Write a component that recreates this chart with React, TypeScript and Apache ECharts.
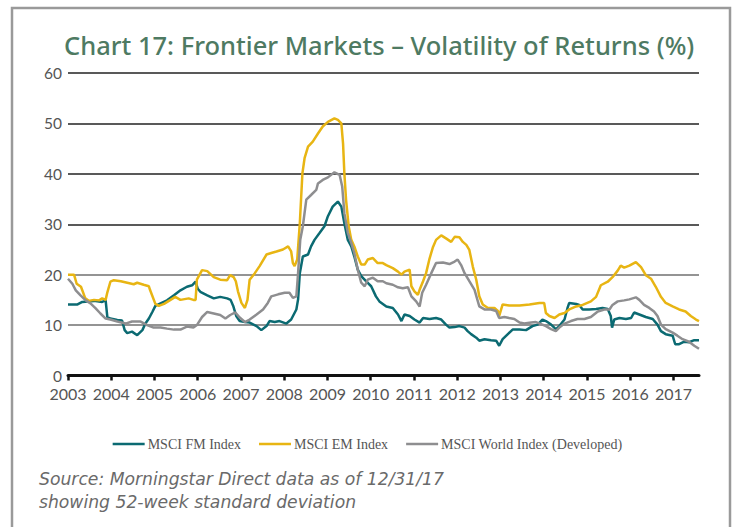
import React, { useEffect, useRef } from "react";
import * as echarts from "echarts";

const TITLE = "Chart 17: Frontier Markets \u2013 Volatility of Returns (%)";
const SOURCE_LINES = ["Source: Morningstar Direct data as of 12/31/17", "showing 52-week standard deviation"];
const SERIES_NAMES = ["MSCI FM Index", "MSCI EM Index", "MSCI World Index (Developed)"];
const YEAR_TICKS = [2003, 2004, 2005, 2006, 2007, 2008, 2009, 2010, 2011, 2012, 2013, 2014, 2015, 2016, 2017];
const Y_TICKS = [0, 10, 20, 30, 40, 50, 60];

const fmData: [number, number][] = [
  [2003.0, 14.1], [2003.22, 14.1], [2003.33, 14.6], [2003.6, 14.8], [2003.79, 14.6], [2003.87, 14.9], [2003.91, 11.6],
  [2003.98, 11.3], [2004.14, 11.0], [2004.25, 10.9], [2004.31, 9.0], [2004.37, 8.4], [2004.48, 8.7], [2004.6, 8.0],
  [2004.72, 9.0], [2004.79, 10.3], [2004.87, 11.3], [2004.95, 12.6], [2005.02, 13.8], [2005.14, 14.3], [2005.29, 14.9],
  [2005.45, 15.9], [2005.6, 16.9], [2005.75, 17.6], [2005.87, 17.9], [2005.95, 18.6], [2006.0, 17.2], [2006.06, 16.6],
  [2006.22, 15.9], [2006.37, 15.3], [2006.52, 15.6], [2006.68, 15.3], [2006.76, 15.0], [2006.82, 13.8], [2006.89, 11.8],
  [2006.97, 10.8], [2007.09, 10.6], [2007.2, 10.5], [2007.36, 9.8], [2007.47, 9.0], [2007.59, 9.8], [2007.66, 10.8],
  [2007.78, 10.6], [2007.89, 10.8], [2008.05, 10.3], [2008.16, 11.1], [2008.28, 13.1], [2008.32, 15.1], [2008.36, 20.3],
  [2008.43, 23.6], [2008.55, 24.0], [2008.62, 25.6], [2008.7, 26.9], [2008.82, 28.3], [2008.93, 29.6], [2009.01, 31.6],
  [2009.12, 33.5], [2009.24, 34.5], [2009.32, 33.5], [2009.39, 30.2], [2009.47, 26.9], [2009.55, 25.6], [2009.62, 23.6],
  [2009.7, 21.0], [2009.78, 19.7], [2009.89, 18.7], [2010.01, 17.7], [2010.12, 15.7], [2010.2, 14.7], [2010.36, 13.7],
  [2010.51, 13.4], [2010.63, 12.1], [2010.71, 10.8], [2010.78, 12.1], [2010.9, 11.8], [2011.01, 11.1], [2011.13, 10.5],
  [2011.21, 11.4], [2011.36, 11.2], [2011.51, 11.4], [2011.63, 11.1], [2011.74, 10.1], [2011.82, 9.5], [2011.94, 9.6],
  [2012.05, 9.8], [2012.17, 9.5], [2012.24, 8.8], [2012.32, 8.2], [2012.44, 7.5], [2012.51, 6.9], [2012.63, 7.2],
  [2012.78, 7.0], [2012.9, 6.9], [2012.97, 5.9], [2013.05, 7.2], [2013.17, 8.2], [2013.28, 9.1], [2013.44, 9.1],
  [2013.59, 9.0], [2013.74, 9.8], [2013.86, 10.1], [2013.97, 11.1], [2014.05, 10.8], [2014.17, 10.1], [2014.28, 9.2],
  [2014.36, 9.8], [2014.48, 11.1], [2014.55, 13.4], [2014.59, 14.4], [2014.75, 14.2], [2014.82, 14.0], [2014.9, 13.1],
  [2015.05, 13.1], [2015.21, 13.2], [2015.36, 13.4], [2015.48, 13.2], [2015.55, 11.8], [2015.58, 9.5], [2015.63, 11.1],
  [2015.75, 11.4], [2015.9, 11.2], [2016.02, 11.4], [2016.09, 12.5], [2016.21, 12.1], [2016.36, 11.6], [2016.52, 11.2],
  [2016.63, 10.1], [2016.71, 8.8], [2016.82, 8.2], [2016.98, 7.9], [2017.04, 6.2], [2017.13, 6.2], [2017.25, 6.7],
  [2017.36, 6.6], [2017.48, 7.0], [2017.59, 7.0],
];

const emData: [number, number][] = [
  [2003.0, 20.0], [2003.14, 20.0], [2003.2, 18.2], [2003.3, 17.6], [2003.4, 15.3], [2003.48, 14.8], [2003.6, 15.0],
  [2003.72, 14.9], [2003.79, 15.3], [2003.87, 15.0], [2003.91, 16.5], [2003.98, 18.6], [2004.06, 18.9], [2004.22, 18.7],
  [2004.37, 18.4], [2004.52, 18.1], [2004.6, 18.4], [2004.75, 18.0], [2004.87, 17.7], [2004.9, 16.9], [2005.02, 14.2],
  [2005.1, 13.8], [2005.22, 14.2], [2005.37, 15.0], [2005.48, 15.6], [2005.6, 15.0], [2005.79, 15.3], [2005.9, 15.0],
  [2005.95, 15.0], [2005.98, 19.0], [2006.1, 20.9], [2006.22, 20.7], [2006.37, 19.5], [2006.52, 19.0], [2006.68, 18.9],
  [2006.75, 19.9], [2006.83, 19.5], [2006.88, 18.7], [2006.93, 16.7], [2007.01, 14.4], [2007.09, 13.4], [2007.15, 15.0],
  [2007.2, 19.0], [2007.32, 20.3], [2007.43, 21.7], [2007.59, 24.0], [2007.7, 24.3], [2007.82, 24.6], [2007.97, 25.0],
  [2008.09, 25.6], [2008.16, 24.6], [2008.2, 22.3], [2008.24, 21.7], [2008.3, 23.0], [2008.36, 30.2], [2008.42, 40.1],
  [2008.47, 43.1], [2008.55, 45.4], [2008.66, 46.4], [2008.78, 48.0], [2008.89, 49.4], [2009.01, 50.3], [2009.16, 51.0],
  [2009.24, 50.7], [2009.32, 50.0], [2009.36, 46.0], [2009.39, 40.1], [2009.43, 34.8], [2009.49, 29.6], [2009.55, 26.9],
  [2009.62, 25.6], [2009.7, 23.6], [2009.78, 22.0], [2009.86, 22.0], [2009.93, 23.0], [2010.05, 23.3], [2010.16, 22.3],
  [2010.28, 22.3], [2010.36, 21.9], [2010.51, 21.3], [2010.63, 20.6], [2010.71, 20.0], [2010.78, 20.6], [2010.9, 21.0],
  [2010.94, 17.7], [2011.01, 16.7], [2011.09, 16.0], [2011.13, 17.0], [2011.21, 18.7], [2011.28, 20.3], [2011.36, 23.2],
  [2011.44, 25.5], [2011.51, 26.9], [2011.63, 27.8], [2011.74, 27.2], [2011.86, 26.5], [2011.94, 27.5], [2012.05, 27.4],
  [2012.13, 26.5], [2012.21, 25.9], [2012.28, 24.9], [2012.36, 21.6], [2012.44, 19.0], [2012.51, 15.7], [2012.59, 14.1],
  [2012.71, 13.4], [2012.86, 13.4], [2012.94, 12.8], [2012.97, 11.8], [2013.05, 14.1], [2013.2, 13.9], [2013.44, 13.9],
  [2013.67, 14.1], [2013.9, 14.4], [2014.01, 14.4], [2014.05, 12.4], [2014.13, 11.8], [2014.25, 11.4], [2014.36, 12.1],
  [2014.48, 12.4], [2014.59, 13.1], [2014.75, 13.7], [2014.9, 14.0], [2015.09, 14.7], [2015.21, 15.6], [2015.32, 17.9],
  [2015.48, 18.6], [2015.59, 19.5], [2015.71, 20.8], [2015.78, 21.8], [2015.86, 21.4], [2015.98, 21.8], [2016.13, 22.5],
  [2016.25, 21.5], [2016.36, 19.9], [2016.48, 19.2], [2016.59, 17.6], [2016.71, 15.6], [2016.82, 14.4], [2016.98, 13.7],
  [2017.13, 13.1], [2017.28, 12.7], [2017.4, 11.8], [2017.52, 11.1], [2017.59, 10.8],
];

const worldData: [number, number][] = [
  [2003.0, 19.2], [2003.1, 18.2], [2003.18, 16.9], [2003.29, 15.9], [2003.41, 14.9], [2003.52, 14.3], [2003.64, 13.3],
  [2003.75, 12.3], [2003.87, 11.3], [2003.98, 11.1], [2004.14, 10.7], [2004.33, 10.3], [2004.48, 10.7], [2004.68, 10.7],
  [2004.83, 10.0], [2004.98, 9.5], [2005.14, 9.5], [2005.29, 9.3], [2005.45, 9.1], [2005.6, 9.1], [2005.75, 9.7],
  [2005.9, 9.5], [2005.98, 10.0], [2006.1, 11.6], [2006.22, 12.6], [2006.37, 12.3], [2006.52, 12.0], [2006.64, 11.3],
  [2006.75, 12.0], [2006.87, 12.5], [2006.97, 11.5], [2007.09, 10.6], [2007.2, 11.1], [2007.36, 12.1], [2007.51, 13.1],
  [2007.62, 14.4], [2007.7, 15.7], [2007.86, 16.1], [2008.01, 16.4], [2008.12, 16.4], [2008.2, 15.4], [2008.28, 15.7],
  [2008.32, 20.3], [2008.37, 26.9], [2008.43, 29.6], [2008.51, 34.9], [2008.62, 35.8], [2008.74, 36.8], [2008.78, 38.1],
  [2008.89, 38.8], [2009.01, 39.3], [2009.16, 40.3], [2009.28, 39.8], [2009.34, 37.5], [2009.39, 32.2], [2009.47, 28.3],
  [2009.55, 26.3], [2009.62, 24.3], [2009.7, 21.0], [2009.78, 18.4], [2009.86, 17.7], [2009.93, 19.0], [2010.05, 19.4],
  [2010.16, 18.7], [2010.28, 18.7], [2010.36, 18.3], [2010.51, 18.0], [2010.63, 17.5], [2010.74, 17.3], [2010.86, 17.5],
  [2010.94, 15.7], [2011.05, 14.7], [2011.13, 13.7], [2011.19, 16.4], [2011.28, 18.0], [2011.4, 20.3], [2011.51, 22.3],
  [2011.67, 22.4], [2011.82, 22.1], [2011.94, 22.6], [2012.01, 23.0], [2012.09, 21.9], [2012.17, 20.3], [2012.28, 18.7],
  [2012.4, 17.0], [2012.51, 13.7], [2012.63, 13.1], [2012.78, 13.1], [2012.9, 12.8], [2012.97, 11.4], [2013.09, 11.6],
  [2013.2, 11.4], [2013.32, 11.2], [2013.44, 10.5], [2013.55, 10.3], [2013.71, 10.5], [2013.82, 10.6], [2013.97, 10.1],
  [2014.05, 9.8], [2014.17, 9.2], [2014.28, 8.8], [2014.36, 9.5], [2014.48, 10.3], [2014.63, 10.8], [2014.78, 11.2],
  [2014.94, 11.2], [2015.09, 11.6], [2015.25, 12.7], [2015.4, 13.1], [2015.52, 13.1], [2015.59, 14.0], [2015.71, 14.7],
  [2015.86, 14.9], [2015.98, 15.1], [2016.13, 15.5], [2016.21, 15.0], [2016.32, 14.0], [2016.44, 13.4], [2016.55, 12.7],
  [2016.63, 11.8], [2016.71, 10.1], [2016.82, 9.2], [2016.98, 8.5], [2017.09, 7.9], [2017.21, 7.2], [2017.36, 6.7],
  [2017.48, 5.9], [2017.59, 5.3],
];

const COLORS = ["#0b6a72", "#e8b513", "#8e8e90"];

export default function App() {
  const ref = useRef<HTMLDivElement>(null);
  useEffect(() => {
    if (!ref.current) return;
    const chart = echarts.init(ref.current, null, { renderer: "svg" });
    const seriesData = [fmData, emData, worldData];
    chart.setOption({
      animation: false,
      backgroundColor: "#ffffff",
      title: {
        text: TITLE,
        left: 59,
        top: 27,
        textStyle: { fontFamily: "Noto Sans", fontSize: 25.5, fontWeight: 500, color: "#4e7a62" },
      },
      legend: {
        data: SERIES_NAMES,
        left: "center",
        top: 432,
        icon: "rect",
        itemWidth: 32,
        itemHeight: 2.5,
        itemGap: 18,
        textStyle: { fontFamily: "Liberation Serif", fontSize: 14, color: "#555555", padding: [0, 0, 0, -2] },
      },
      grid: { left: 68, right: 36, top: 73, bottom: 151.5, containLabel: false },
      xAxis: {
        type: "value",
        min: 2003,
        max: 2017.59,
        interval: 1,
        axisLine: { show: true, lineStyle: { color: "#111111", width: 3 } },
        axisTick: { show: true, length: 5, lineStyle: { color: "#111111", width: 2.5 }, customValues: YEAR_TICKS },
        axisLabel: {
          customValues: YEAR_TICKS,
          formatter: (v: number) => String(v),
          margin: 10,
          fontFamily: "Lato",
          fontSize: 16,
          lineHeight: 16,
          color: "#555555",
        },
        splitLine: { show: false },
      },
      yAxis: {
        type: "value",
        min: 0,
        max: 60,
        interval: 10,
        axisLine: { show: false },
        axisTick: { show: false },
        axisLabel: {
          margin: 6,
          fontFamily: "Lato",
          fontSize: 15.5,
          lineHeight: 14,
          color: "#555555",
          formatter: (v: number) => (Y_TICKS.includes(v) ? String(v) : ""),
        },
        splitLine: {
          show: true,
          lineStyle: { color: ["#222222", "#707070", "#707070", "#222222", "#222222", "#222222", "#222222"], width: 1.5 },
        },
      },
      series: SERIES_NAMES.map((name, i) => ({
        name,
        type: "line",
        data: seriesData[i],
        showSymbol: false,
        symbol: "none",
        lineStyle: { color: COLORS[i], width: 2.5 },
        itemStyle: { color: COLORS[i] },
        z: 2 + i,
      })),
      graphic: [
        {
          type: "rect",
          shape: { x: 12, y: 8, width: 718, height: 540 },
          style: { fill: "none", stroke: "#9a9a9a", lineWidth: 2.5 },
          silent: true,
        },
        {
          type: "text",
          left: 39,
          top: 467,
          style: {
            text: SOURCE_LINES.join("\n"),
            fontFamily: "DejaVu Sans",
            fontStyle: "italic",
            fontWeight: 300,
            fontSize: 17.2,
            lineHeight: 23,
            fill: "#6a6a6a",
          },
        },
      ],
    });
    return () => chart.dispose();
  }, []);
  return <div ref={ref} style={{ position: "fixed", left: 0, top: 0, width: 735, height: 527 }} />;
}
